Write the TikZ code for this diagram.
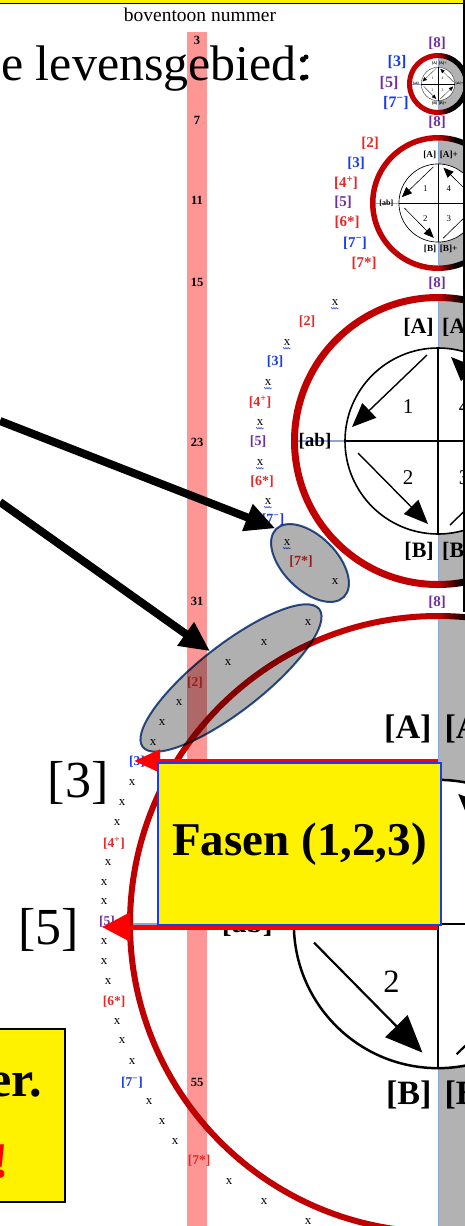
\documentclass[tikz,border=0pt]{standalone}
\usepackage{fontspec}
\setmainfont{Liberation Serif}
\usetikzlibrary{arrows.meta,shapes.geometric,decorations.pathmorphing}
\definecolor{ringred}{RGB}{192,0,0}
\definecolor{lred}{RGB}{230,40,40}
\definecolor{lblue}{RGB}{25,60,230}
\definecolor{lpurple}{RGB}{112,48,160}
\definecolor{barpink}{RGB}{255,150,150}
\definecolor{greyreg}{RGB}{178,178,178}
\definecolor{ellgrey}{RGB}{176,176,176}
\definecolor{ellblue}{RGB}{47,85,151}
\definecolor{vblue}{RGB}{140,165,210}
\definecolor{boxblue}{RGB}{20,60,255}
\newcommand\fsz[1]{\fontsize{#1pt}{#1pt}\selectfont}
\newcommand\spl{\textsuperscript{+}}
\newcommand\smn{\textsuperscript{\char"2212}}
% circle diagram: #1 cx, #2 cy, #3 outer R, #4 ring width, #5 inner scale, #6 shade width, #7 prefix, #8 [A] offset
\newcommand\cyc[8]{%
\begin{scope}
 \clip (#1,#2) circle[radius=#3-#4+0.3];
 \fill[greyreg] (#1,#2-#3) rectangle (#1+#3,#2+#3);
\end{scope}
\begin{scope}[even odd rule]
 \clip (#1,#2) circle[radius=#3] (#1,#2) circle[radius=#3-#4];
 \fill[ringred] (#1-#3-1,#2-#3-1) rectangle (#1,#2+#3+1);
 \shade[left color=ringred,right color=black] (#1-0.05,#2-#3-1) rectangle (#1+#6,#2+#3+1);
 \fill[black] (#1+#6-0.05,#2-#3-1) rectangle (#1+#3+1,#2+#3+1);
\end{scope}
\draw[vblue, line width=0.8pt] (#1,#2-#3+#4) -- (#1,#2+#3-#4);
\draw[vblue, line width=#5*1.2pt+0.3pt] (#1-#3+#4,#2) -- (#1-93*#5,#2);
\begin{scope}[shift={(#1,#2)}, scale=#5, transform shape]
 \fill[white] (0,0) circle[radius=93];
 \draw[line width=#5*1.6pt] (0,0) circle[radius=93];
 \draw[line width=#5*1.6pt] (0,-93) -- (0,93) (-93,0) -- (93,0);
 \node[inner sep=0pt, anchor=east, font=\fsz{22}\bfseries] (#7A) at (-4,#8) {[A]};
 \node[inner sep=0pt, anchor=west, font=\fsz{22}\bfseries] (#7Ap) at (4,#8) {[A]+};
 \node[inner sep=0pt, anchor=east, font=\fsz{22}\bfseries] (#7B) at (-4,110) {[B]};
 \node[inner sep=0pt, anchor=west, font=\fsz{22}\bfseries] (#7Bp) at (4,110) {[B]+};
 \node[inner sep=0pt, font=\fsz{19}\bfseries] (#7ab) at (-123,0) {[ab]};
 \node[inner sep=0pt, anchor=west, font=\fsz{19}\bfseries] (#7abp) at (97,0) {[ab]+};
 \node[inner sep=0pt, font=\fsz{21}] (#7n1) at (-30,-34) {1};
 \node[inner sep=0pt, font=\fsz{21}] (#7n4) at (26,-34) {4};
 \node[inner sep=0pt, font=\fsz{21}] (#7n2) at (-30,37) {2};
 \node[inner sep=0pt, font=\fsz{21}] (#7n3) at (26,37) {3};
 \draw[line width=#5*1.4pt, -{Triangle[length=24pt,width=20pt,scale=#5]}] (-11,-86) -- (-86,-14);
 \draw[line width=#5*1.4pt, -{Triangle[length=24pt,width=20pt,scale=#5]}] (-80,12) -- (-10,83);
 \draw[line width=#5*1.4pt, -{Triangle[length=24pt,width=20pt,scale=#5]}] (12,84) -- (84,14);
 \draw[line width=#5*1.4pt, -{Triangle[length=24pt,width=20pt,scale=#5]}] (86,-12) -- (13,-84);
\end{scope}
}
\begin{document}
\begin{tikzpicture}[x=1pt,y=-1pt,
  labA/.style={inner sep=0pt, font=\fsz{16}\bfseries},
  labB/.style={inner sep=0pt, font=\fsz{15}\bfseries},
  labC/.style={inner sep=0pt, font=\fsz{14}\bfseries},
  labD/.style={inner sep=0pt, font=\fsz{13.5}\bfseries},
  xm/.style={inner sep=0pt, font=\fsz{13}},
  barnum/.style={inner sep=0pt, font=\fsz{12.5}\bfseries},
  squig/.style={draw=lblue, line width=0.5pt, decorate, decoration={snake, amplitude=0.7pt, segment length=2.2pt}},
  blkarrow/.style={line width=8pt, -{Triangle[length=30pt,width=27pt]}},
  redarrow/.style={red, line width=5pt},
  ell/.style={ellipse, draw=ellblue, line width=2pt, fill=ellgrey, inner sep=0pt, blend mode=multiply},
]
\useasboundingbox (0,0) rectangle (465,1226);
\clip (0,0) rectangle (465,1226);
\fill[white] (0,0) rectangle (465,1226);
\fill[yellow] (0,0) rectangle (465,3);
\draw[line width=1.2pt] (0,3.6) -- (465,3.6);

% pink bar with numbers
\fill[barpink] (187,32) rectangle (207,1226);
\foreach \n/\py in {3/40, 7/120, 11/200, 15/282, 23/442, 31/601, 39/765, 55/1082}
  \node[barnum] (bn\n) at (197,\py) {\n};

% title and header
\node[inner sep=0pt, font=\fsz{19.5}] (hdr) at (200,15) {boventoon nummer};
\node[anchor=base east, inner sep=0pt, font=\fsz{50}] (title) at (311,80) {e levensgebied:};
\node[circle, fill=black, inner sep=0pt, minimum size=5pt] (bul1) at (306,57) {};
\node[circle, fill=black, inner sep=0pt, minimum size=5pt] (bul2) at (306,77) {};

% circle diagrams
\cyc{438}{84}{31}{5}{0.18}{12}{ca}{-114}
\cyc{438}{203}{68}{5.5}{0.42}{18}{cb}{-114}
\cyc{438}{441}{147}{7}{1}{25}{cc}{-114}
\cyc{438}{924}{311}{6}{1.55}{30}{cd}{-126}

% [8] labels
\foreach \py [count=\i] in {43, 122, 283, 602}
  \node[labB, text=lpurple] (e\i) at (437,\py) {[8]};

% sequence A
\foreach \px/\py/\tx/\cl [count=\i] in {397/62/{[3]}/lblue, 389/83/{[5]}/lpurple, 396/103/{[7\smn]}/lblue}
  \node[labA, text=\cl] (sa\i) at (\px,\py) {\tx};

% sequence B
\foreach \px/\py/\tx/\cl [count=\i] in {370/143/{[2]}/lred, 356/163/{[3]}/lblue, 346/183/{[4\spl]}/lred, 343/202/{[5]}/lpurple, 347/222/{[6*]}/lred, 355/243/{[7\smn]}/lblue, 364/263/{[7*]}/lred}
  \node[labB, text=\cl] (sb\i) at (\px,\py) {\tx};

% sequence C
\foreach \px/\py/\tx/\cl [count=\i] in {307/322/{[2]}/lred, 275/362/{[3]}/lblue, 260/402/{[4\spl]}/lred, 258/442/{[5]}/lpurple, 262/482/{[6*]}/lred, 273/520/{[7\smn]}/lblue, 301/562/{[7*]}/lred}
  \node[labC, text=\cl] (sc\i) at (\px,\py) {\tx};
\foreach \px/\py [count=\i] in {335/303, 287/343, 268/383, 260/423, 260/463, 268/502, 287/543}
{
  \node[xm] (xc\i) at (\px,\py) {x};
  \draw[squig] ([xshift=-0.5pt,yshift=-2pt]xc\i.south west) -- ([xshift=0.5pt,yshift=-2pt]xc\i.south east);
}
\node[xm] (xc8) at (335,582) {x};

% sequence D
\foreach \px/\py/\tx/\cl [count=\i] in {195/683/{[2]}/lred, 137/762/{[3]}/lblue, 114/843/{[4\spl]}/lred, 107/922/{[5]}/lpurple, 114/1002/{[6*]}/lred, 132/1083/{[7\smn]}/lblue, 199/1161/{[7*]}/lred}
  \node[labD, text=\cl] (sd\i) at (\px,\py) {\tx};
\foreach \px/\py [count=\i] in {308/623, 264/643, 228/663, 179/703, 162/723, 153/743, 132/783, 122/803, 117/823, 108/863, 104/883, 104/902, 104/942, 104/962, 108/982, 117/1022, 122/1041, 132/1062, 149/1102, 162/1122, 175/1142, 229/1182, 264/1202, 308/1222}
  \node[xm] (xd\i) at (\px,\py) {x};

% highlight ellipses
\node[ell, minimum width=96pt, minimum height=54pt, rotate=-45] (ell1) at (310,563) {};
\node[ell, minimum width=224pt, minimum height=66pt, rotate=38] (ell2) at (231,678) {};

% red arrows and Fasen box
\coordinate (r1s) at (438,761);
\coordinate (r1t) at (134,761);
\coordinate (r2s) at (438,927);
\coordinate (r2t) at (102,927);
\draw[redarrow, -{Triangle[length=26pt,width=22pt]}] (r1s) -- (r1t);
\draw[redarrow, -{Triangle[length=28pt,width=28pt]}] (r2s) -- (r2t);
\node[draw=boxblue, line width=2pt, fill=yellow, minimum width=283pt, minimum height=162pt, inner sep=0pt, font=\fsz{47}\bfseries] (fasen) at (299.5,844) {Fasen (1,2,3)};

% big labels
\node[inner sep=0pt, font=\fsz{52}] (big3) at (78,783) {[3]};
\node[inner sep=0pt, font=\fsz{52}] (big5) at (49,930) {[5]};

% black arrows
\coordinate (a1s) at (0,421);
\coordinate (a2s) at (0,502);
\draw[blkarrow] (a1s) -- (ell1.west);
\draw[blkarrow] (a2s) -- (ell2.north);

% bottom-left yellow box
\node[draw=black, line width=2.5pt, fill=yellow, minimum width=100pt, minimum height=173pt, inner sep=0pt] (ybox) at (15,1115.5) {};
\node[anchor=base east, inner sep=0pt, font=\fsz{50}\bfseries] (yt1) at (42,1096) {er.};
\node[anchor=base east, inner sep=0pt, font=\fsz{50}\bfseries, text=red] (yt2) at (9,1177) {!};

% right border
\draw[line width=1.5pt] (463.8,0) -- (463.8,612);
\end{tikzpicture}
\end{document}
